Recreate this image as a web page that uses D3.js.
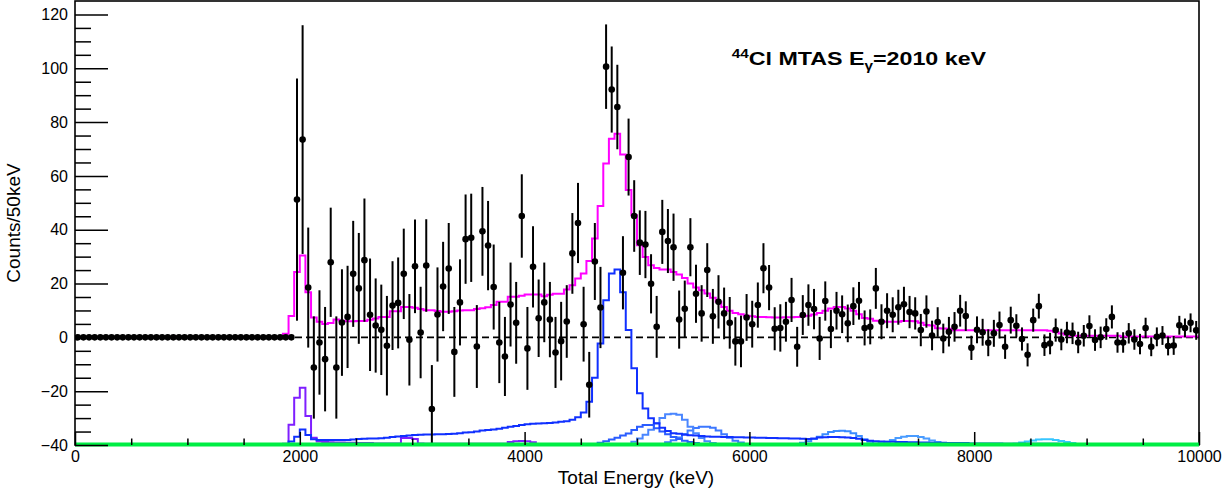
<!DOCTYPE html>
<html><head><meta charset="utf-8">
<script src="https://cdn.jsdelivr.net/npm/d3@7"></script>
<style>
html,body{margin:0;padding:0;background:#fff}
svg{display:block}
text{font-family:"Liberation Sans",Arial,Helvetica,sans-serif}
</style>
</head><body>
<svg id="chart" width="1231" height="492"></svg>
<script>
// ---------------- data ----------------
const binWidth = 50;          // keV per bin, 200 bins from 0 to 10000 keV
const nBins = 200;

// measured spectrum (Counts/50keV), bins 0..199
const counts = [
  0,0,0,0,0,0,0,0,0,0,
  0,0,0,0,0,0,0,0,0,0,
  0,0,0,0,0,0,0,0,0,0,
  0,0,0,0,0,0,0,0,0,51.2,
  73.5,18.5,-11.2,-1.9,-8.1,27.9,-11.2,5.5,7.6,23.6,
  18.2,28.7,8.4,4.4,2.8,-3.1,11.8,12.8,23.6,-0.9,
  26.4,1.8,26.7,-26.6,8.5,18.9,25.6,-5.4,13.0,36.5,
  37.0,-3.4,39.4,34.1,18.7,-1.9,-7.1,12.2,5.4,45.1,
  -4.1,26.2,7.1,13.0,6.6,-5.6,-1.4,5.9,31.2,42.5,
  4.9,-17.6,28.2,11.1,100.6,92.1,85.6,24.0,67.0,45.1,
  35.2,34.5,19.9,3.9,39.2,35.8,33.5,6.6,10.6,33.5,
  16.2,8.9,25.0,7.8,13.2,8.9,5.4,-1.5,-1.5,7.4,
  4.9,12.0,25.7,18.5,3.2,3.5,5.8,13.9,-3.5,8.3,
  12.0,10.5,-0.4,13.5,3.1,9.9,8.6,5.2,11.6,13.6,
  3.5,3.9,18.2,5.8,9.9,8.4,11.2,12.3,9.4,8.9,
  2.7,9.6,0.7,5.7,-0.4,2.1,3.9,9.9,7.9,-3.9,
  2.8,1.9,-2.0,1.5,4.6,-3.5,6.4,4.3,-0.6,-6.5,
  6.4,11.6,-2.9,-2.3,2.7,-0.8,1.8,1.5,-1.9,0.6,
  4.2,-1.0,0.0,3.1,7.6,-1.9,-1.9,1.5,-0.8,-2.5,
  3.5,-3.5,0.2,0.7,-3.2,-3.0,4.5,3.5,5.4,2.6
];

// statistical errors of the spectrum, bins 0..199
const countErrors = [
  0,0,0,0,0,0,0,0,0,0,
  0,0,0,0,0,0,0,0,0,0,
  0,0,0,0,0,0,0,0,0,0,
  0,0,0,0,0,0,0,0,0,45,
  42.5,22.3,19,19.4,19.4,20.3,19,19.8,19,19.7,
  20.6,22.9,20.9,17.5,16.8,18.5,16.5,16.9,16.8,17,
  17.4,17,17.2,16.3,17.5,16.6,16.9,16.7,16,16.6,
  16.4,15.4,16.5,16.6,15.8,15.1,14.7,15.6,15.2,15.5,
  15.4,15.1,14.4,14.8,14,13.2,14.6,13.5,15,14.9,
  13.9,12.2,14.3,15.1,15.7,16,15.7,13.6,14.3,13.3,
  12,12.5,11,11.5,11.9,11.9,12.5,10.8,10.5,10.8,
  10.8,10.5,10,10.2,9.9,9.6,9.6,9,9.6,8.7,
  8.7,8.4,9.3,8.4,8,8.8,7.4,8.2,7.4,7.4,
  7.7,7.5,8,7.3,7.1,7,7,7,7,7,
  6.5,6.5,7.6,6.5,6.5,6.5,6.5,6.5,6,6,
  6,6,5.5,5.5,5.5,5.5,5.5,5.9,5.5,4.5,
  5,5,5,5,5,4.5,5,4.3,4.3,4.3,
  4.3,4.6,4,4,4.3,4,4,4,4,4,
  4,4,4,4,4.3,3.8,3.8,3.8,3.8,3.8,
  3.8,3.5,3.5,3.5,3.5,3.5,3.5,3.5,3.5,3.5
];

// total fit (magenta), bins 0..199
const fitTotal = [
  0,0,0,0,0,0,0,0,0,0,
  0,0,0,0,0,0,0,0,0,0,
  0,0,0,0,0,0,0,0,0,0,
  0,0,0,0,0,0,0,1.3,7.9,24.3,
  30.4,16.8,7.4,5.8,5.0,5.3,6.6,6.2,6.0,6.0,
  6.1,6.1,6.5,7.0,7.6,7.6,9.7,9.7,11.3,11.3,
  11.0,10.5,10.1,10.1,9.8,9.5,9.5,9.7,10.0,10.1,
  10.1,10.5,10.8,11.2,12.0,13.2,13.2,15.1,15.1,15.5,
  15.9,15.9,15.9,15.3,15.8,16.2,16.2,17.8,19.4,21.9,
  23.7,28.4,36.7,48.8,64.6,73.8,75.7,68.0,54.8,45.4,
  34.2,29.9,26.8,25.8,25.2,25.2,24.3,23.4,22.1,20.0,
  18.5,17.5,16.3,14.7,13.2,11.3,9.9,9.1,8.6,8.0,
  7.8,7.6,7.6,7.5,7.4,7.4,7.5,7.5,7.6,7.8,
  8.0,8.5,9.1,9.9,10.7,11.3,11.3,10.7,9.9,8.6,
  7.2,6.9,6.2,6.0,5.8,5.8,5.8,6.1,6.1,6.0,
  5.4,4.6,4.4,3.4,3.3,3.2,2.6,2.6,2.6,2.6,
  2.6,2.6,2.6,2.6,2.6,2.6,2.6,2.6,2.6,2.6,
  2.6,2.6,2.6,2.5,2.0,1.4,1.0,0.6,0.6,0.6,
  0.6,0.6,0.6,0.6,0.6,0.6,0.3,0.3,0.3,0.3,
  0.3,0.3,0.3,0.3,0.3,0.3,0.3,0.3,0.3,0.3
];

// fit components (as drawn on the axis), each starts at the given bin
const violetStart = 36;
const violetComp = [
  -40,-39.5,-32.5,-22.4,
  -18.7,-29.2,-37.3,-38.7,-38.9,-39.0,-39.1,-39.1,-39.2,-39.2,
  -39.3,-39.3,-39.3,-39.4,-39.4,-39.4,-39.4,-39.4,-37.4,-37.4,
  -37.8,-39.4,-39.5,-39.5,-39.5,-39.5,-39.5,-39.5,-39.5,-39.5,
  -39.5,-39.5,-39.5,-39.5,-39.5,-39.5,-39.5,-38.9,-38.6,-38.5,
  -38.6,-39.0,-39.6,-39.6,-39.6,-39.6,-39.6,-39.7,-39.7,-39.7,
  -39.8,-39.8,-39.8,-39.8,-39.8,-39.8
];

const blueStart = 36;
const blueComp = [
  -40,-39.8,-38.7,-36.9,
  -34.2,-36.3,-37.9,-38.1,-38.1,-38.1,-38.1,-38.1,-38.1,-38.0,
  -37.8,-37.7,-37.6,-37.6,-37.5,-37.3,-37.0,-36.8,-36.7,-36.5,
  -36.3,-36.2,-36.1,-36.1,-36.0,-36.0,-35.9,-35.8,-35.6,-35.4,
  -35.3,-35.0,-34.6,-34.4,-34.2,-34.0,-33.6,-33.2,-32.9,-32.6,
  -32.3,-32.1,-32.0,-31.9,-31.8,-31.6,-31.4,-31.2,-30.6,-29.7,
  -27.9,-23.9,-15.0,-2.3,13.8,23.7,25.2,16.8,2.7,-11.5,
  -20.8,-26.4,-30.1,-31.9,-33.6,-34.8,-35.6,-35.8,-36.2,-36.4,
  -36.5,-36.7,-36.8,-36.9,-36.9,-37.0,-37.0,-37.1,-37.1,-37.2,
  -37.2,-37.3,-37.3,-37.4,-37.4,-37.5,-37.5,-37.6,-37.6,-37.7,
  -37.8,-37.6,-37.2,-37.1,-37.0,-37.0,-37.1,-37.2,-37.4,-37.7,
  -38.1,-38.4,-38.6,-38.7,-38.8,-38.8,-38.9,-38.9,-39.0,-39.0,
  -39.1,-39.1,-39.2,-39.2,-39.2,-39.3,-39.3,-39.3,-39.3,-39.4,
  -39.4,-39.4,-39.4,-39.4,-39.4,-39.5,-39.5,-39.5,-39.5,-39.5,
  -39.5,-39.5,-39.5,-39.5,-39.5,-39.6,-39.6,-39.6,-39.6,-39.6,
  -39.6,-39.6,-39.6,-39.6,-39.6,-39.6,-39.7,-39.7,-39.7,-39.7,
  -39.7,-39.7,-39.7,-39.7,-39.7,-39.7,-39.7,-39.7,-39.7,-39.7
];

const compAStart = 92;
const compA = [-39.6,-39.2,-38.6,-38.0,-37.3,-36.5,-35.7,-34.4,-33.2,-32.6,
               -32.6,-33.8,-35.0,-36.0,-37.0,-37.8,-38.4,-38.9,-39.3,-39.6];

const compBStart = 98;
const compB = [-39.6,-38.8,-37.6,-36.2,-34.3,-32.0,-30.0,-28.6,-28.4,-28.8,
               -30.6,-33.2,-35.6,-37.4,-38.6,-39.3,-39.7];

const compCStart = 104;
const compC = [-39.6,-39.0,-38.2,-37.2,-35.9,-34.6,-33.7,-33.2,-33.2,-33.6,
               -34.6,-36.0,-37.3,-38.4,-39.1,-39.6];

const compDStart = 128;
const compD = [-39.6,-39.2,-38.6,-37.8,-36.9,-36.0,-35.2,-34.8,-34.7,-34.9,
               -35.6,-36.7,-37.9,-38.8,-39.4,-39.7];

const compFStart = 142;
const compF = [-39.7,-39.3,-38.8,-38.1,-37.4,-36.9,-36.7,-36.7,-37.0,-37.6,
               -38.3,-38.9,-39.4,-39.7];

const compGStart = 166;
const compG = [-39.8,-39.5,-39.1,-38.7,-38.3,-38.0,-37.9,-37.9,-38.1,-38.5,
               -38.9,-39.3,-39.6,-39.8];

const greenLevel = -40;

const xMajorTicks = [0, 2000, 4000, 6000, 8000, 10000];
const yMajorTicks = [-40, -20, 0, 20, 40, 60, 80, 100, 120];

// ---------------- layout ----------------
const W = 1231, H = 492;
const L = 75, R = 1199, T = 1, B = 445;
const svg = d3.select('#chart');

const x = d3.scaleLinear().domain([0, 10000]).range([L, R]);
const y = d3.scaleLinear().domain([-40, 125]).range([B, T]);

svg.append('defs').append('clipPath').attr('id', 'clip')
  .append('rect').attr('x', L).attr('y', T).attr('width', R - L).attr('height', B - T);

const plot = svg.append('g').attr('clip-path', 'url(#clip)');

// dashed zero line
plot.append('line')
  .attr('x1', x(0)).attr('x2', x(10000)).attr('y1', y(0)).attr('y2', y(0))
  .attr('stroke', '#000').attr('stroke-width', 1.6).attr('stroke-dasharray', '7,4');

function stepPath(start, values) {
  let d = '';
  values.forEach((v, k) => {
    const i = start + k;
    const x0 = x(i * binWidth), x1 = x((i + 1) * binWidth), yy = y(v);
    d += (k === 0 ? `M${x0},${yy}` : `L${x0},${yy}`) + `L${x1},${yy}`;
  });
  return d;
}

const comps = [
  {start: compGStart, vals: compG, color: '#38c6ff'},
  {start: compFStart, vals: compF, color: '#4a9cff'},
  {start: compDStart, vals: compD, color: '#3b8bff'},
  {start: compCStart, vals: compC, color: '#3d78ff'},
  {start: compBStart, vals: compB, color: '#4a86ff'},
  {start: compAStart, vals: compA, color: '#2a5cff'},
  {start: violetStart, vals: violetComp, color: '#7f1fff'},
  {start: blueStart, vals: blueComp, color: '#1030ff'}
];
comps.forEach(c => {
  plot.append('path').attr('d', stepPath(c.start, c.vals))
    .attr('fill', 'none').attr('stroke', c.color).attr('stroke-width', 2);
});

// total fit
plot.append('path').attr('d', stepPath(0, fitTotal))
  .attr('fill', 'none').attr('stroke', '#ff00ff').attr('stroke-width', 2);

// data points with error bars
const pts = counts.map((v, i) => ({e: i * binWidth + binWidth / 2, v, err: countErrors[i]}));
const pg = svg.append('g').attr('clip-path', 'url(#clip)');
pg.selectAll('line.err').data(pts.filter(d => d.err > 0)).join('line')
  .attr('class', 'err')
  .attr('x1', d => x(d.e)).attr('x2', d => x(d.e))
  .attr('y1', d => y(d.v - d.err)).attr('y2', d => y(d.v + d.err))
  .attr('stroke', '#000').attr('stroke-width', 2);
pg.selectAll('circle').data(pts).join('circle')
  .attr('cx', d => x(d.e)).attr('cy', d => y(d.v)).attr('r', 3.3).attr('fill', '#000');

// frame
svg.append('rect').attr('x', L).attr('y', T).attr('width', R - L).attr('height', B - T)
  .attr('fill', 'none').attr('stroke', '#000').attr('stroke-width', 1.6);

// green flat component (drawn over the bottom frame edge)
svg.append('line')
  .attr('x1', x(0)).attr('x2', x(10000)).attr('y1', y(greenLevel) - 0.5).attr('y2', y(greenLevel) - 0.5)
  .attr('stroke', '#00ee44').attr('stroke-width', 4);

// axes
const yMinor = d3.range(-40, 121, 5).filter(v => !yMajorTicks.includes(v));
const xMinor = d3.range(0, 10001, 500).filter(v => !xMajorTicks.includes(v));

const gy = svg.append('g').attr('transform', `translate(${L},0)`)
  .call(d3.axisLeft(y).tickValues(yMajorTicks).tickSizeInner(-33).tickSizeOuter(0).tickPadding(7));
const gyMinor = svg.append('g').attr('transform', `translate(${L},0)`)
  .call(d3.axisLeft(y).tickValues(yMinor).tickSizeInner(-16).tickSizeOuter(0).tickFormat(''));
const gx = svg.append('g').attr('transform', `translate(0,${B})`)
  .call(d3.axisBottom(x).tickValues(xMajorTicks).tickSizeInner(-13).tickSizeOuter(0).tickPadding(6).tickFormat(d3.format('d')));
const gxMinor = svg.append('g').attr('transform', `translate(0,${B})`)
  .call(d3.axisBottom(x).tickValues(xMinor).tickSizeInner(-6.5).tickSizeOuter(0).tickFormat(''));

[gy, gyMinor, gx, gxMinor].forEach(g => {
  g.select('.domain').remove();
  g.selectAll('.tick line').attr('stroke', '#000').attr('stroke-width', 1.5);
  g.selectAll('.tick text').attr('fill', '#000').style('font-size', '16px')
    .style('font-family', '"Liberation Sans",Arial,sans-serif');
});

// axis titles
svg.append('text').attr('x', 636).attr('y', 484).attr('text-anchor', 'middle')
  .style('font-size', '19px').attr('fill', '#000').text('Total Energy (keV)');
svg.append('text').attr('transform', 'translate(20,223) rotate(-90)').attr('text-anchor', 'middle')
  .style('font-size', '19px').attr('fill', '#000').text('Counts/50keV');

// title
const title = svg.append('text').attr('x', 0).attr('y', 0)
  .style('font-weight', 'bold').style('font-size', '19px').attr('fill', '#000');
title.append('tspan').text('44').style('font-size', '12.5px').attr('dy', -7.5);
title.append('tspan').text('Cl MTAS E').attr('dy', 7.5);
title.append('tspan').text('γ').style('font-size', '12.5px').attr('dy', 5);
title.append('tspan').text('=2010 keV').attr('dy', -5);
const bb = title.node().getBBox();
const targetW = 255;
const sx = targetW / bb.width;
title.attr('transform', `translate(${731.7 - bb.x * sx},65) scale(${sx},1)`);
</script>
</body></html>
